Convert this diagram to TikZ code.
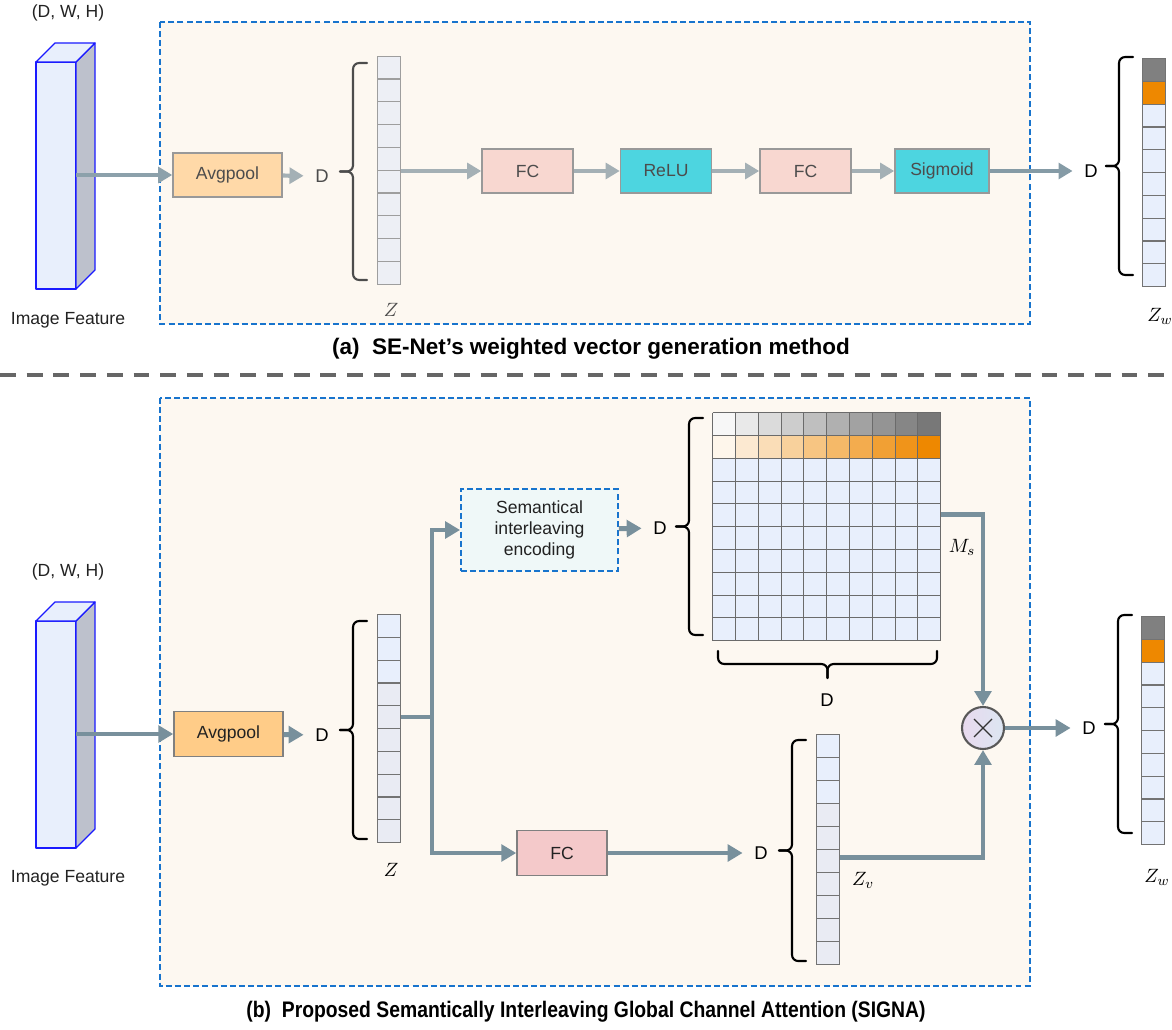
\documentclass[tikz,border=0pt]{standalone}
\usepackage{fontspec}
\setmainfont{Liberation Sans}
\usepackage{graphicx}
\usetikzlibrary{arrows.meta,calc,positioning}

\definecolor{boxbg}{HTML}{FDF8F1}
\definecolor{dashblue}{HTML}{1874CD}
\definecolor{flowgray}{HTML}{78909C}
\definecolor{flowlight}{HTML}{A4B0B5}
\definecolor{poolfill}{HTML}{FFCC88}
\definecolor{poolpale}{HTML}{FFD9A8}
\definecolor{fcfill}{HTML}{F4C9CA}
\definecolor{fcpale}{HTML}{F8D7D0}
\definecolor{actfill}{HTML}{4DD5E0}
\definecolor{cellblue}{HTML}{E8EFFC}
\definecolor{cellgray}{HTML}{E9EBF3}
\definecolor{hotorange}{HTML}{EE8800}
\definecolor{cubeside}{HTML}{BDC1CC}
\definecolor{cubeedge}{HTML}{1A1AFF}
\definecolor{semfill}{HTML}{EFF8F8}
\definecolor{inktext}{HTML}{222222}
\definecolor{mullav}{HTML}{E8D9EE}
\definecolor{mulblue}{HTML}{DCE6F2}

\newcommand{\txtsz}{\fontsize{10}{12}\selectfont}
% curly brace opening left: [colour]{x of the ends}{y top}{y bottom}
\newcommand{\sidebrace}[4][black]{%
  \draw[bracket, draw=#1] (#2,#3) -- (#2-14,#3) -- (#2-14,{(#3+#4)/2}) -- (#2-27,{(#3+#4)/2});
  \draw[bracket, draw=#1] (#2,#4) -- (#2-14,#4) -- (#2-14,{(#3+#4)/2}) -- (#2-27,{(#3+#4)/2});}
% curly brace under a block: {x left}{x right}{y of the ends}
\newcommand{\lowbrace}[3]{%
  \draw[bracket] (#1,#3) -- (#1,#3+13) -- ({(#1+#2)/2},#3+13) -- ({(#1+#2)/2},#3+27);
  \draw[bracket] (#2,#3) -- (#2,#3+13) -- ({(#1+#2)/2},#3+13) -- ({(#1+#2)/2},#3+27);}

\tikzset{
  frame/.style={draw=dashblue, line width=1.1pt, dash pattern=on 3.4pt off 1.8pt, fill=boxbg},
  opbox/.style={draw=black!50, line width=0.9pt, minimum width=1.82cm, minimum height=0.88cm,
    inner sep=0pt, font=\txtsz, text=inktext},
  paleop/.style={opbox, draw=black!40, text=black!70},
  txt/.style={font=\txtsz, text=inktext, inner sep=1pt},
  mathlbl/.style={font=\fontsize{11}{13}\selectfont, inner sep=1pt},
  dlabel/.style={font=\fontsize{10.5}{12}\selectfont, inner xsep=6.5pt, inner ysep=1pt},
  vecslot/.style={minimum width=0.46cm, minimum height=4.56cm, inner sep=0pt},
  cellA/.style={draw=black!38, line width=0.7pt, fill=cellgray!80!white},
  cellB/.style={draw=black!55, line width=0.7pt},
  gridline/.style={draw=black!58, line width=0.6pt},
  cube/.style={draw=cubeedge, line width=0.7pt, line join=round},
  flow/.style={draw=flowgray, line width=2.8pt,
    -{Triangle[length=8.5pt,width=9.5pt]}},
  flowA/.style={draw=flowlight, line width=2.4pt,
    -{Triangle[length=8pt,width=9pt]}},
  bracket/.style={line width=1.2pt, rounded corners=3.5pt, line cap=round},
  sepline/.style={draw=black!60, line width=2.2pt, dash pattern=on 9pt off 6.2pt}
}

\begin{document}
\begin{tikzpicture}[x=0.02cm,y=-0.02cm]
\useasboundingbox (0,0) rectangle (1172,1030);

% ===== (a) SE-Net =====
\draw[frame] (160,22) rectangle (1030,324);

% image feature block
\node[txt] (dwhA) at (68,13) {(D, W, H)};
\draw[cube, fill=cellblue] (36,62) rectangle (76,289);
\draw[cube, fill=cubeside] (76,62) -- (95,43) -- (95,270) -- (76,289) -- cycle;
\draw[cube, fill=cellblue] (36,62) -- (55,43) -- (95,43) -- (76,62) -- cycle;
\node[txt] (featA) at (68,320) {Image Feature};
\coordinate (cubeA) at (76,175);

\node[paleop, fill=poolpale, minimum width=2.18cm] (poolA) at (227.5,175) {Avgpool};
\node[dlabel, text=black!70] (dA) at (322,176) {D};
\node[vecslot] (zA) at (389.5,170.5) {};
\foreach \i in {0,...,9}
  \draw[cellA] ($(zA.north west)+(0,22.8*\i)$) rectangle +(23,22.8);
\sidebrace[black!70]{367}{63}{280}
\node[mathlbl, text=black!70] (zlblA) at (391,310) {$Z$};

\node[paleop, fill=fcpale] (fcA) at (527.5,171) {FC};
\node[paleop, fill=actfill] (reluA) at (666,171) {ReLU};
\node[paleop, fill=fcpale] (fctwoA) at (805.5,171) {FC};
\node[paleop, fill=actfill, minimum width=1.88cm] (sigA) at (942,171) {Sigmoid};

\node[dlabel] (dwA) at (1091,171) {D};
\node[vecslot] (zwA) at (1154.5,173) {};
\foreach \i in {0,...,9}
  \draw[cellB, fill=cellblue] ($(zwA.north west)+(0,22.8*\i)$) rectangle +(23,22.8);
\draw[cellB, fill=black!50] (zwA.north west) rectangle +(23,22.8);
\draw[cellB, fill=hotorange] ($(zwA.north west)+(0,22.8)$) rectangle +(23,22.8);
\sidebrace{1133}{57}{275}
\node[mathlbl] (zwlblA) at (1160,316) {$Z_w$};

\draw[flowA, draw=flowgray!85] (cubeA) -- (poolA);
\draw[flowA] (poolA) -- (dA);
\draw[flowA] (zA.east |- fcA) -- (fcA);
\draw[flowA] (fcA) -- (reluA);
\draw[flowA] (reluA) -- (fctwoA);
\draw[flowA] (fctwoA) -- (sigA);
\draw[flowA, draw=flowgray!90] (sigA) -- (dwA);

\node[font=\bfseries\fontsize{12.8}{15}\selectfont] (capA) at (591,349)
  {(a)\ \ SE-Net’s weighted vector generation method};

% separator
\draw[sepline] (0,375) -- (1172,375);

% ===== (b) SIGNA =====
\draw[frame] (160,398) rectangle (1030,986);

\node[txt] (dwhB) at (68,572) {(D, W, H)};
\draw[cube, fill=cellblue] (36,621) rectangle (76,848);
\draw[cube, fill=cubeside] (76,621) -- (95,602) -- (95,829) -- (76,848) -- cycle;
\draw[cube, fill=cellblue] (36,621) -- (55,602) -- (95,602) -- (76,621) -- cycle;
\node[txt] (featB) at (68,878) {Image Feature};
\coordinate (cubeB) at (76,734);

\node[opbox, fill=poolfill, minimum width=2.18cm, minimum height=0.9cm] (poolB) at (228.5,734) {Avgpool};
\node[dlabel] (dB) at (322,735) {D};
\node[vecslot] (zB) at (389.5,729) {};
\foreach \i in {0,...,9}
  \draw[cellB, fill=cellgray] ($(zB.north west)+(0,22.8*\i)$) rectangle +(23,22.8);
\foreach \i in {0,1,2}
  \draw[cellB, fill=cellblue] ($(zB.north west)+(0,22.8*\i)$) rectangle +(23,22.8);
\sidebrace{367}{621}{839}
\node[mathlbl] (zlblB) at (391,870) {$Z$};
\coordinate (splitB) at (432,717);

% semantical interleaving encoding branch
\node[opbox, draw=dashblue, dash pattern=on 3.4pt off 1.8pt, line width=1.1pt, fill=semfill,
  minimum width=3.14cm, minimum height=1.64cm, align=center] (semB) at (539.5,530)
  {Semantical\\interleaving\\encoding};
\node[dlabel] (dmB) at (660,528) {D};
\node[vecslot, minimum height=4.56cm, minimum width=4.56cm] (mB) at (827,527) {};
\foreach \c in {0,...,9} {
  \pgfmathsetmacro\shade{3+50*\c/9}
  \pgfmathsetmacro\warm{8+92*\c/9}
  \fill[black!\shade] ($(mB.north west)+(22.8*\c,0)$) rectangle +(22.8,22.8);
  \fill[hotorange!\warm!white] ($(mB.north west)+(22.8*\c,22.8)$) rectangle +(22.8,22.8);
}
\fill[cellblue] ($(mB.north west)+(0,45.6)$) rectangle (mB.south east);
\foreach \k in {0,...,10} {
  \draw[gridline] ($(mB.north west)+(22.8*\k,0)$) -- +(0,228);
  \draw[gridline] ($(mB.north west)+(0,22.8*\k)$) -- +(228,0);
}
\sidebrace{703}{418}{635}
\lowbrace{718}{937}{651}
\node[dlabel] (dmbotB) at (827,700) {D};
\node[mathlbl] (mslbl) at (962,547) {$M_s$};
\coordinate (msout) at ($(mB.north east)+(0,102)$);

% FC branch
\node[opbox, fill=fcfill, minimum width=1.8cm, minimum height=0.9cm] (fcB) at (562,853) {FC};
\node[dlabel] (dvB) at (761,853) {D};
\node[vecslot, minimum height=4.6cm] (zvB) at (828.5,850) {};
\foreach \i in {0,...,9}
  \draw[cellB, fill=cellgray] ($(zvB.north west)+(0,23*\i)$) rectangle +(23,23);
\foreach \i in {0,1,2}
  \draw[cellB, fill=cellblue] ($(zvB.north west)+(0,23*\i)$) rectangle +(23,23);
\sidebrace{806}{740}{961}
\node[mathlbl] (zvlbl) at (863,880) {$Z_v$};
\coordinate (zvout) at ($(zvB.north east)+(0,123)$);

% multiplication
\node[circle, draw=black!65, line width=1.2pt, minimum size=0.84cm, inner sep=0pt,
  left color=mullav, right color=mulblue] (mulB) at (983,728) {};
\draw[line width=0.7pt, draw=black!80] ($(mulB.center)+(-9,-9)$) -- ($(mulB.center)+(9,9)$);
\draw[line width=0.7pt, draw=black!80] ($(mulB.center)+(-9,9)$) -- ($(mulB.center)+(9,-9)$);

\node[dlabel] (dwB) at (1089,728) {D};
\node[vecslot] (zwB) at (1153.5,731) {};
\foreach \i in {0,...,9}
  \draw[cellB, fill=cellblue] ($(zwB.north west)+(0,22.8*\i)$) rectangle +(23,22.8);
\draw[cellB, fill=black!50] (zwB.north west) rectangle +(23,22.8);
\draw[cellB, fill=hotorange] ($(zwB.north west)+(0,22.8)$) rectangle +(23,22.8);
\sidebrace{1132}{615}{833}
\node[mathlbl] (zwlblB) at (1157,877) {$Z_w$};

\draw[flow] (cubeB) -- (poolB);
\draw[flow] (poolB) -- (dB);
\draw[flow, -] (zB.east |- splitB) -- (splitB);
\draw[flow] (splitB) |- (semB.west);
\draw[flow] (splitB) |- (fcB.west);
\draw[flow] (semB) -- (dmB);
\draw[flow] (fcB) -- (dvB);
\draw[flow] (msout) -| (mulB.north);
\draw[flow] (zvout) -| (mulB.south);
\draw[flow] (mulB) -- (dwB);

\node[font=\bfseries\fontsize{12.8}{15}\selectfont] (capB) at (586,1012)
  {\scalebox{0.86}[1]{(b)\ \ Proposed Semantically Interleaving Global Channel Attention (SIGNA)}};
\end{tikzpicture}
\end{document}
